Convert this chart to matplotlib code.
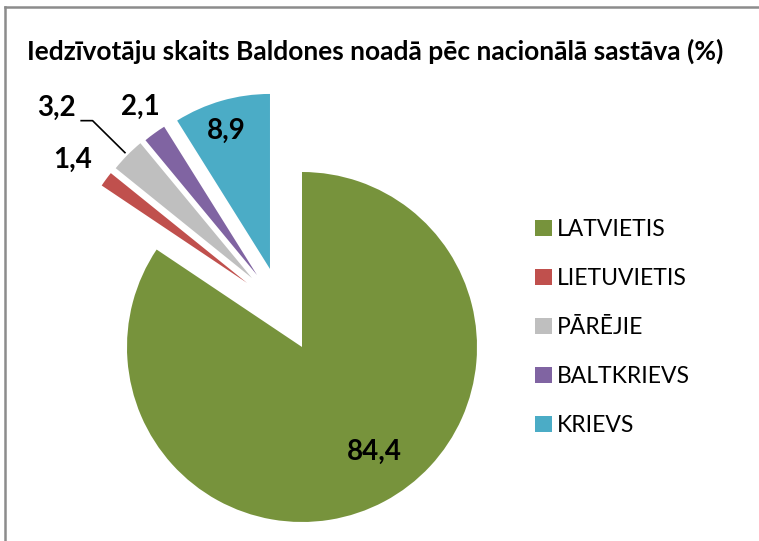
import numpy as np
import matplotlib
matplotlib.use('Agg')
import matplotlib.pyplot as plt
from matplotlib.lines import Line2D

# data
labels = ['LATVIETIS', 'LIETUVIETIS', 'PĀRĒJIE', 'BALTKRIEVS', 'KRIEVS']
values = [84.4, 1.4, 3.2, 2.1, 8.9]
value_text = ['84,4', '1,4', '3,2', '2,1', '8,9']
colors = ['#77933C', '#C0504D', '#BFBFBF', '#8064A2', '#4BACC6']
title = 'Iedzīvotāju skaits Baldones noadā pēc nacionālā sastāva (%)'

# slice offsets (units of pie radius) and label placement (radius, angle nudge in deg)
offsets = [(0, 0), (-0.314, 0.366), (-0.286, 0.394), (-0.257, 0.411), (-0.183, 0.446)]
label_pos = [(0.73, 6.7), (1.22, 1.0), (1.48, -4.6), (1.17, -1.0), (0.83, 1.5)]

W, H = 759, 541
fig = plt.figure(figsize=(W / 100, H / 100), dpi=100)
ax = fig.add_axes([0, 0, 1, 1])

R = 175  # pie radius in px
cx, cy = 302, H - 347
wedges, _ = ax.pie(values, colors=colors, startangle=90, counterclock=False,
                   radius=1, wedgeprops=dict(linewidth=0))
for w, off in zip(wedges, offsets):
    w.set_center(off)

ax.set_xlim(-cx / R, (W - cx) / R)
ax.set_ylim(-cy / R, (H - cy) / R)
ax.set_aspect('equal')
ax.axis('off')

font = 'Lato'
for i, w in enumerate(wedges):
    r, dth = label_pos[i]
    mid = np.deg2rad((w.theta1 + w.theta2) / 2 + dth)
    c = w.center
    x = c[0] + r * np.cos(mid)
    y = c[1] + r * np.sin(mid)
    if i == 2:
        # leader line for the grey slice
        m0 = np.deg2rad((w.theta1 + w.theta2) / 2)
        ex, ey = c[0] + 1.02 * np.cos(m0), c[1] + 1.02 * np.sin(m0)
        bx, by = c[0] + 1.28 * np.cos(m0), c[1] + 1.28 * np.sin(m0)
        ax.plot([ex, bx, bx - 0.065], [ey, by, by], color='black', lw=1.2)
        ax.text(bx - 0.095, by + 0.03, value_text[i], ha='right', va='baseline',
                fontsize=20, fontweight='bold', family=font)
    else:
        ax.text(x, y, value_text[i], ha='center', va='center',
                fontsize=20, fontweight='bold', family=font)

fig.text(375 / W, 1 - 60 / H, title, ha='center', va='baseline',
         fontsize=19, fontweight='bold', family=font)

fig.legend(wedges, labels, loc='upper left', bbox_to_anchor=(535 / W, 1 - 219 / H),
           frameon=False, borderpad=0, borderaxespad=0,
           prop={'family': font, 'size': 16.5},
           handlelength=0.72, handleheight=0.72, handletextpad=0.25,
           labelspacing=1.22)

# chart border (top and left)
fig.add_artist(Line2D([5 / W, 1], [1 - 7 / H, 1 - 7 / H], color='#8c8c8c', lw=1.8))
fig.add_artist(Line2D([5 / W, 5 / W], [0, 1 - 7 / H], color='#8c8c8c', lw=1.8))

fig.savefig('out.png', dpi=100)
